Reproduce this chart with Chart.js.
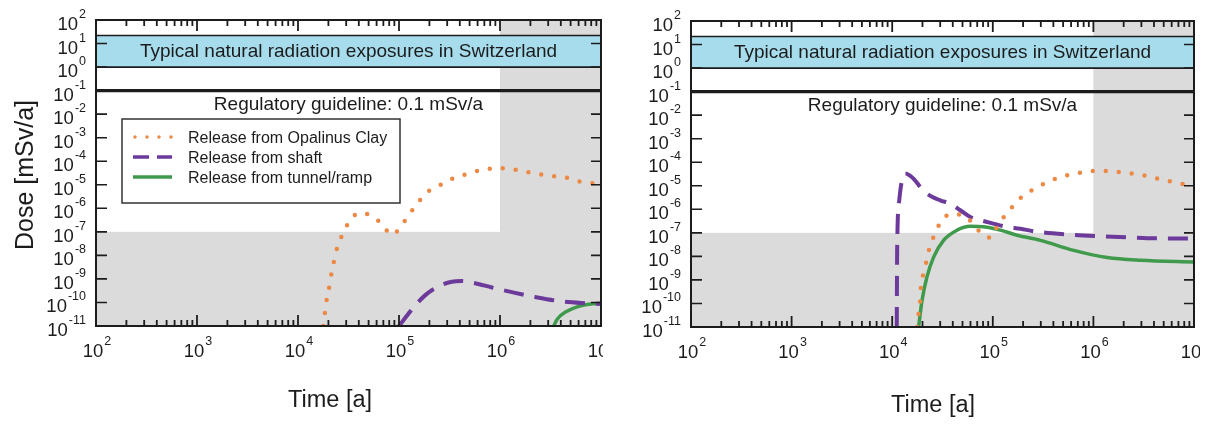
<!DOCTYPE html>
<html>
<head>
<meta charset="utf-8">
<script src="https://cdn.jsdelivr.net/npm/chart.js@4.4.1/dist/chart.umd.min.js"></script>
<style>
  html, body { margin: 0; padding: 0; background: #fff; }
  #wrap { position: relative; width: 1208px; height: 425px; overflow: hidden; }
  #left { position: absolute; left: 0; top: 0; }
  #right { position: absolute; left: 603px; top: 0; }
</style>
</head>
<body>
<div id="wrap">
  <canvas id="left" width="603" height="425"></canvas>
  <canvas id="right" width="597" height="425"></canvas>
</div>
<script>
// series labels
const seriesLabels = ["Release from Opalinus Clay", "Release from shaft", "Release from tunnel/ramp"];

// left panel - time [a] and dose [mSv/a]
const clayTimeL = [1.78e4, 1.93e4, 2.05e4, 2.16e4, 2.30e4, 2.48e4, 2.79e4, 3.24e4, 4.07e4, 5.41e4, 6.85e4, 8.41e4, 1.04e5, 1.22e5, 1.49e5, 1.84e5, 2.36e5, 3.09e5, 4.0e5, 5.47e5, 7.43e5, 1.0e6, 1.37e6, 1.86e6, 2.5e6, 3.42e6, 4.65e6, 6.07e6, 1.0e7];
const clayDoseL = [1e-11, 1.45e-10, 5.2e-10, 2.1e-9, 7.2e-9, 2.7e-8, 8.3e-8, 2.9e-7, 6.3e-7, 4.7e-7, 2.0e-7, 7.6e-8, 1.6e-7, 4.7e-7, 1.4e-6, 4.4e-6, 7.8e-6, 1.55e-5, 2.3e-5, 3.5e-5, 4.6e-5, 5.1e-5, 4.5e-5, 3.5e-5, 2.8e-5, 2.3e-5, 1.95e-5, 1.4e-5, 1.05e-5];
const shaftTimeL = [1.0e5, 1.32e5, 1.81e5, 2.45e5, 3.33e5, 4.19e5, 5.68e5, 8.32e5, 1.31e6, 2.24e6, 4.14e6, 7.06e6, 1.0e7];
const shaftDoseL = [1e-11, 4.6e-11, 2.0e-10, 4.8e-10, 7.6e-10, 8.1e-10, 6.6e-10, 4.3e-10, 2.75e-10, 1.7e-10, 1.1e-10, 9.3e-11, 8.7e-11];
const tunnelTimeL = [3.4e6, 3.7e6, 4.5e6, 6.0e6, 8.2e6, 1.0e7];
const tunnelDoseL = [1e-11, 2e-11, 4e-11, 6.8e-11, 8.7e-11, 9.3e-11];

// right panel
const clayTimeR = [1.77e4, 1.83e4, 1.90e4, 1.93e4, 2.05e4, 2.21e4, 2.35e4, 2.62e4, 3.0e4, 3.78e4, 5.12e4, 6.44e4, 7.82e4, 9.6e4, 1.10e5, 1.33e5, 1.64e5, 2.03e5, 2.65e5, 3.46e5, 4.52e5, 6.14e5, 8.32e5, 1.13e6, 1.53e6, 2.08e6, 2.82e6, 3.84e6, 5.2e6, 7.06e6, 1.0e7];
const clayDoseR = [1e-11, 3.7e-11, 1.45e-10, 5.4e-10, 1.9e-9, 7.2e-9, 2.3e-8, 7.9e-8, 2.6e-7, 6.2e-7, 5.6e-7, 2.3e-7, 8.7e-8, 6.3e-8, 1.8e-7, 5.6e-7, 1.6e-6, 4.0e-6, 7.6e-6, 1.45e-5, 2.2e-5, 3.1e-5, 3.9e-5, 4.3e-5, 4.2e-5, 3.5e-5, 3.1e-5, 2.3e-5, 1.7e-5, 1.3e-5, 9.5e-6];
const shaftTimeR = [1.11e4, 1.12e4, 1.175e4, 1.25e4, 1.35e4, 1.63e4, 1.90e4, 2.21e4, 3.0e4, 3.78e4, 4.75e4, 5.97e4, 8.75e4, 1.38e5, 1.88e5, 2.55e5, 5.47e5, 1.17e6, 2.51e6, 5.4e6, 1.0e7];
const shaftDoseR = [1e-11, 1.8e-8, 2.4e-6, 1.7e-5, 3.3e-5, 2.0e-5, 8.9e-6, 4.7e-6, 2.4e-6, 1.74e-6, 9.1e-7, 4.7e-7, 2.9e-7, 1.8e-7, 1.5e-7, 1.17e-7, 8.5e-8, 7.1e-8, 6.3e-8, 5.75e-8, 5.75e-8];
const tunnelTimeR = [1.83e4, 1.98e4, 2.21e4, 2.58e4, 3.24e4, 4.41e4, 5.97e4, 8.09e4, 1.19e5, 1.74e5, 2.97e5, 6.37e5, 1.37e6, 2.94e6, 1.0e7];
const tunnelDoseR = [1e-11, 1.35e-10, 1.3e-9, 9.3e-9, 4.8e-8, 1.3e-7, 1.9e-7, 1.8e-7, 1.3e-7, 7.9e-8, 4.8e-8, 1.8e-8, 8.9e-9, 6.8e-9, 5.75e-9];

// reference levels
const bandLow = 1, bandHigh = 22;      // natural exposures band
const guideline = 0.1;                 // regulatory guideline
const greyDose = 1e-7, greyTime = 1e6; // shaded zones
const bandText = "Typical natural radiation exposures in Switzerland";
const guideText = "Regulatory guideline: 0.1 mSv/a";

// tick labels (powers of ten)
const xTickExp = [2, 3, 4, 5, 6, 7];
const yTickExp = [2, 1, 0, -1, -2, -3, -4, -5, -6, -7, -8, -9, -10, -11];

const colors = { clay: "#ec8a45", shaft: "#6c3a9a", tunnel: "#3f9a4c", grey: "#dcdbdc", band: "#a6dcec", ink: "#1c1c1c" };
const FONT = "'Liberation Sans', Arial, sans-serif";

function pts(ts, ds){
    return ts.map((t, i) => ({ x: t, y: ds[i] }));
}

function makeDatasets(cT, cD, sT, sD, tT, tD){
    return [
        { label: seriesLabels[0], data: pts(cT, cD), borderColor: colors.clay, borderWidth: 4.5,
          borderDash: [0, 13], borderCapStyle: "round" },
        { label: seriesLabels[1], data: pts(sT, sD), borderColor: colors.shaft, borderWidth: 4,
          borderDash: [20, 11] },
        { label: seriesLabels[2], data: pts(tT, tD), borderColor: colors.tunnel, borderWidth: 3.5 }
    ];
}

function drawPow(ctx, exp, x, y, align){
    // "10" with superscript exponent; y = baseline of "10"
    ctx.font = "18.5px " + FONT;
    const wb = ctx.measureText("10").width;
    ctx.font = "12.5px " + FONT;
    const we = ctx.measureText(String(exp)).width;
    let x0 = align === "right" ? x - wb - we - 1 : x - (wb + we + 1) / 2;
    ctx.textAlign = "left";
    ctx.font = "18.5px " + FONT;
    ctx.fillText("10", x0, y);
    ctx.font = "12.5px " + FONT;
    ctx.fillText(String(exp), x0 + wb + 1, y - 12);
}

function panelPlugin(cfg){
    return {
        id: "panel",
        beforeDatasetsDraw(chart){
            const { ctx, chartArea: a, scales: { x, y } } = chart;
            ctx.save();
            ctx.fillStyle = colors.grey;
            const xg = x.getPixelForValue(greyTime);
            ctx.fillRect(xg, a.top, a.right - xg, a.bottom - a.top);
            const yg = y.getPixelForValue(greyDose);
            ctx.fillRect(a.left, yg, a.right - a.left, a.bottom - yg);

            const yb1 = y.getPixelForValue(bandHigh), yb0 = y.getPixelForValue(bandLow);
            ctx.fillStyle = colors.band;
            ctx.fillRect(a.left, yb1, a.right - a.left, yb0 - yb1);
            ctx.strokeStyle = colors.ink;
            ctx.lineWidth = 1.6;
            ctx.beginPath();
            ctx.moveTo(a.left, yb1); ctx.lineTo(a.right, yb1);
            ctx.moveTo(a.left, yb0); ctx.lineTo(a.right, yb0);
            ctx.stroke();

            const yr = y.getPixelForValue(guideline);
            ctx.lineWidth = 3.2;
            ctx.beginPath();
            ctx.moveTo(a.left, yr); ctx.lineTo(a.right, yr);
            ctx.stroke();

            const cx = (a.left + a.right) / 2;
            ctx.fillStyle = colors.ink;
            ctx.font = "19px " + FONT;
            ctx.textAlign = "center";
            ctx.textBaseline = "alphabetic";
            ctx.fillText(bandText, cx, (yb1 + yb0) / 2 + 6);
            ctx.fillText(guideText, cx, yr + 19);
            ctx.restore();
        },
        afterDatasetsDraw(chart){
            const { ctx, chartArea: a, scales: { x, y } } = chart;
            ctx.save();
            ctx.setLineDash([]);
            ctx.lineCap = "butt";
            ctx.strokeStyle = colors.ink;
            ctx.fillStyle = colors.ink;

            // x ticks (top and bottom, major + minor)
            ctx.lineWidth = 1.8;
            ctx.beginPath();
            xTickExp.forEach(e => {
                const px = x.getPixelForValue(Math.pow(10, e));
                ctx.moveTo(px, a.bottom); ctx.lineTo(px, a.bottom - 11);
                ctx.moveTo(px, a.top); ctx.lineTo(px, a.top + 11);
                if (e < 7) {
                    for (let m = 2; m < 10; m++) {
                        const pm = x.getPixelForValue(m * Math.pow(10, e));
                        ctx.moveTo(pm, a.bottom); ctx.lineTo(pm, a.bottom - 6);
                        ctx.moveTo(pm, a.top); ctx.lineTo(pm, a.top + 6);
                    }
                }
            });
            ctx.stroke();

            // y ticks (left and right)
            ctx.lineWidth = 1.6;
            ctx.beginPath();
            yTickExp.forEach(e => {
                const py = y.getPixelForValue(Math.pow(10, e));
                ctx.moveTo(a.left, py); ctx.lineTo(a.left + 11, py);
                ctx.moveTo(a.right, py); ctx.lineTo(a.right - 10, py);
            });
            ctx.stroke();

            // frame
            ctx.lineWidth = 2;
            ctx.strokeRect(a.left, a.top, a.right - a.left, a.bottom - a.top);

            // tick labels
            ctx.textBaseline = "alphabetic";
            yTickExp.forEach(e => {
                const py = y.getPixelForValue(Math.pow(10, e));
                drawPow(ctx, e, a.left - 10, py + 10, "right");
            });
            xTickExp.forEach(e => {
                const px = x.getPixelForValue(Math.pow(10, e));
                drawPow(ctx, e, px + 1, a.bottom + 31, "center");
            });

            // axis titles
            ctx.textAlign = "center";
            ctx.font = "23.5px " + FONT;
            ctx.fillText("Time [a]", cfg.timeX, cfg.timeY);
            if (cfg.yTitle) {
                ctx.save();
                ctx.translate(33, 175);
                ctx.rotate(-Math.PI / 2);
                ctx.font = "25px " + FONT;
                ctx.fillText("Dose [mSv/a]", 0, 0);
                ctx.restore();
            }

            // legend
            if (cfg.legend) {
                const lx = 122, ly = 119, lw = 278, lh = 84;
                ctx.fillStyle = "#fff";
                ctx.fillRect(lx, ly, lw, lh);
                ctx.lineWidth = 1.5;
                ctx.strokeStyle = "#333";
                ctx.strokeRect(lx, ly, lw, lh);
                const ds = chart.data.datasets;
                ds.forEach((d, i) => {
                    const ry = 137 + i * 20;
                    ctx.save();
                    ctx.strokeStyle = d.borderColor;
                    ctx.lineWidth = 3.5;
                    ctx.lineCap = d.borderCapStyle || "butt";
                    ctx.setLineDash(i === 0 ? [0, 12] : (i === 1 ? [16, 8] : []));
                    ctx.beginPath();
                    ctx.moveTo(i === 0 ? 135 : 133, ry); ctx.lineTo(172, ry);
                    ctx.stroke();
                    ctx.restore();
                    ctx.fillStyle = colors.ink;
                    ctx.font = "16px " + FONT;
                    ctx.textAlign = "left";
                    ctx.fillText(d.label, 188, ry + 6);
                });
            }
            ctx.restore();
        }
    };
}

function createChart(id, datasets, pad, yWidth, xHeight, cfg){
    const canvas = document.getElementById(id);
    return new Chart(canvas, {
        type: "line",
        data: { datasets: datasets },
        options: {
            responsive: false,
            animation: false,
            devicePixelRatio: 1,
            layout: { padding: pad },
            elements: { point: { radius: 0 }, line: { cubicInterpolationMode: "monotone", fill: false } },
            plugins: { legend: { display: false }, tooltip: { enabled: false } },
            scales: {
                x: {
                    type: "logarithmic", min: 1e2, max: 1e7,
                    ticks: { display: false }, grid: { display: false }, border: { display: false },
                    afterFit(scale){ scale.height = xHeight; }
                },
                y: {
                    type: "logarithmic", min: 1e-11, max: 1e2,
                    ticks: { display: false }, grid: { display: false }, border: { display: false },
                    afterFit(scale){ scale.width = yWidth; }
                }
            }
        },
        plugins: [panelPlugin(cfg)]
    });
}

createChart("left",
    makeDatasets(clayTimeL, clayDoseL, shaftTimeL, shaftDoseL, tunnelTimeL, tunnelDoseL),
    { top: 20, right: 2, left: 0, bottom: 0 }, 96, 99,
    { timeX: 330, timeY: 407, yTitle: true, legend: true });

createChart("right",
    makeDatasets(clayTimeR, clayDoseR, shaftTimeR, shaftDoseR, tunnelTimeR, tunnelDoseR),
    { top: 21, right: 6, left: 0, bottom: 0 }, 88, 98,
    { timeX: 330, timeY: 412, yTitle: false, legend: false });
</script>
</body>
</html>
